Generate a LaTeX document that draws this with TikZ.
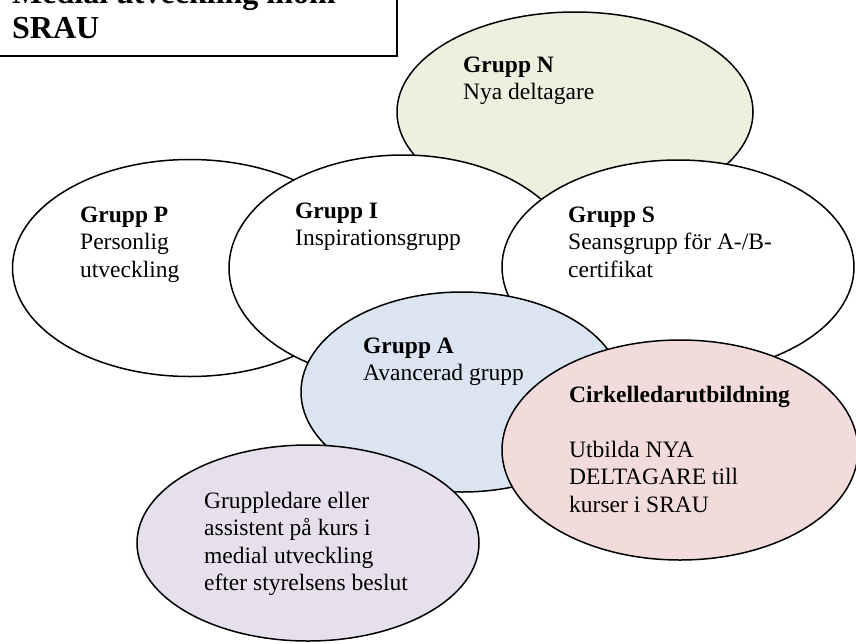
\documentclass[tikz,border=0pt]{standalone}
\usepackage{fontspec}
\setmainfont{Liberation Serif}
\usepackage{tikz}
\usetikzlibrary{shapes}
\usetikzlibrary{positioning}
\definecolor{grnfill}{RGB}{235,241,222}
\definecolor{blafill}{RGB}{219,229,241}
\definecolor{rosfill}{RGB}{242,220,219}
\definecolor{lilafill}{RGB}{229,224,236}
\tikzstyle{grupp} = [ellipse, draw, line width=1.5pt, fill=white, inner sep=0pt]
\tikzstyle{etikett} = [anchor=base west, inner sep=0pt,
    font=\fontsize{23.5}{27.5}\selectfont]
\newcommand{\rader}[1]{\begin{tabular}[t]{@{}l@{}}#1\end{tabular}}

\begin{document}
\begin{tikzpicture}[x=1pt,y=-1pt]
    \useasboundingbox (0,0) rectangle (856,643);
    % Title box
    \draw[line width=1.5pt] (-20,-60) rectangle (397,56);
    \node[anchor=base west, inner sep=0pt,
        font=\fontsize{32}{35}\selectfont\bfseries] (rubrik) at (12,3)
        {\rader{Medial utveckling inom\\SRAU}};
    % Place ellipses
    \node[grupp, fill=grnfill, minimum width=356pt, minimum height=200pt] (gruppN) at (575,112) {};
    \node[grupp, minimum width=355pt, minimum height=217pt] (gruppP) at (190,268) {};
    \node[grupp, minimum width=348pt, minimum height=226pt] (gruppI) at (403,268) {};
    \node[grupp, minimum width=352pt, minimum height=214pt] (gruppS) at (678,267) {};
    \node[grupp, fill=blafill, minimum width=322pt, minimum height=200pt] (gruppA) at (462,392) {};
    \node[grupp, fill=rosfill, minimum width=356pt, minimum height=220pt] (cirkel) at (680,450) {};
    \node[grupp, fill=lilafill, minimum width=342pt, minimum height=196pt] (ledare) at (308,543) {};
    % Texts
    \node[etikett] (txtN) at (463,72) {\rader{\textbf{Grupp N}\\Nya deltagare}};
    \node[etikett] (txtP) at (80,222) {\rader{\textbf{Grupp P}\\Personlig\\utveckling}};
    \node[etikett] (txtI) at (295,218) {\rader{\textbf{Grupp I}\\Inspirationsgrupp}};
    \node[etikett] (txtS) at (568,222) {\rader{\textbf{Grupp S}\\Seansgrupp för A-/B-\\certifikat}};
    \node[etikett] (txtA) at (363,353) {\rader{\textbf{Grupp A}\\Avancerad grupp}};
    \node[etikett] (txtC) at (569,402) {\rader{\textbf{Cirkelledarutbildning}\\ \\Utbilda NYA\\DELTAGARE till\\kurser i SRAU}};
    \node[etikett] (txtL) at (204,508) {\rader{Gruppledare eller\\assistent på kurs i\\medial utveckling\\efter styrelsens beslut}};
\end{tikzpicture}
\end{document}
